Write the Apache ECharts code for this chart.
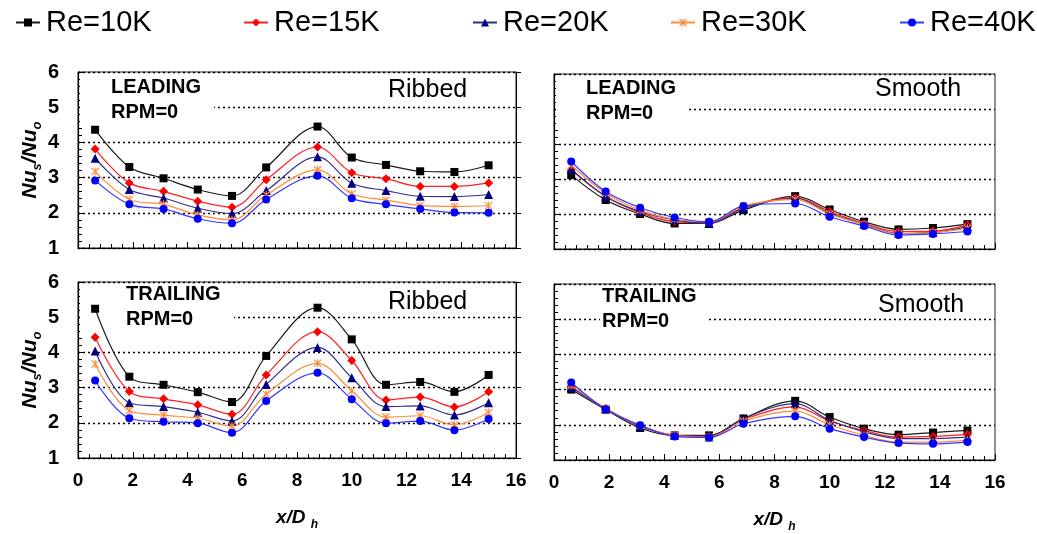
<!DOCTYPE html>
<html>
<head>
<meta charset="utf-8">
<script src="https://cdn.jsdelivr.net/npm/echarts@6/dist/echarts.min.js"></script>
<style>html,body{margin:0;padding:0;background:#fff}#c{width:1037px;height:534px}</style>
</head>
<body>
<div id="c"></div>
<script>
// x positions (x/Dh) of the measurement stations
const xPos = [0.625, 1.875, 3.125, 4.375, 5.625, 6.875, 8.75, 10, 11.25, 12.5, 13.75, 15];
const seriesNames = ['Re=10K', 'Re=15K', 'Re=20K', 'Re=30K', 'Re=40K'];
const xTicks = [0, 2, 4, 6, 8, 10, 12, 14, 16];
const yTicks = [1, 2, 3, 4, 5, 6];

// Leading, Ribbed
const lr10 = [4.36, 3.30, 2.98, 2.66, 2.48, 3.29, 4.45, 3.57, 3.36, 3.18, 3.16, 3.35];
const lr15 = [3.81, 2.85, 2.61, 2.33, 2.16, 2.94, 3.87, 3.14, 2.97, 2.75, 2.75, 2.85];
const lr20 = [3.55, 2.66, 2.42, 2.13, 1.98, 2.63, 3.59, 2.84, 2.63, 2.47, 2.46, 2.52];
const lr30 = [3.17, 2.38, 2.24, 1.94, 1.80, 2.51, 3.22, 2.54, 2.36, 2.21, 2.18, 2.20];
const lr40 = [2.92, 2.24, 2.11, 1.83, 1.70, 2.38, 3.05, 2.41, 2.24, 2.11, 2.01, 2.00];
// Leading, Smooth
const ls10 = [3.11, 2.40, 2.00, 1.73, 1.73, 2.11, 2.51, 2.13, 1.78, 1.56, 1.60, 1.71];
const ls15 = [3.26, 2.50, 2.04, 1.78, 1.75, 2.19, 2.47, 2.07, 1.73, 1.50, 1.51, 1.69];
const ls20 = [3.28, 2.51, 2.07, 1.83, 1.73, 2.16, 2.45, 2.02, 1.71, 1.45, 1.47, 1.64];
const ls30 = [3.40, 2.59, 2.11, 1.85, 1.78, 2.23, 2.42, 2.00, 1.70, 1.43, 1.47, 1.59];
const ls40 = [3.50, 2.64, 2.18, 1.90, 1.78, 2.23, 2.30, 1.92, 1.66, 1.40, 1.43, 1.50];
// Trailing, Ribbed
const tr10 = [5.24, 3.31, 3.08, 2.87, 2.59, 3.90, 5.27, 4.37, 3.08, 3.16, 2.88, 3.36];
const tr15 = [4.43, 2.89, 2.68, 2.51, 2.24, 3.36, 4.59, 3.77, 2.65, 2.73, 2.45, 2.88];
const tr20 = [4.04, 2.57, 2.46, 2.30, 2.05, 3.09, 4.14, 3.28, 2.46, 2.48, 2.22, 2.57];
const tr30 = [3.67, 2.35, 2.22, 2.13, 1.91, 2.81, 3.69, 2.91, 2.16, 2.20, 1.94, 2.29];
const tr40 = [3.20, 2.13, 2.03, 1.99, 1.72, 2.62, 3.42, 2.67, 1.99, 2.05, 1.79, 2.11];
// Trailing, Smooth
const ts10 = [3.00, 2.43, 1.91, 1.70, 1.70, 2.18, 2.68, 2.22, 1.89, 1.72, 1.78, 1.84];
const ts15 = [3.09, 2.46, 1.97, 1.70, 1.67, 2.15, 2.51, 2.10, 1.84, 1.65, 1.67, 1.73];
const ts20 = [3.06, 2.46, 1.96, 1.70, 1.65, 2.18, 2.60, 2.13, 1.80, 1.61, 1.61, 1.65];
const ts30 = [3.12, 2.46, 1.98, 1.70, 1.65, 2.10, 2.39, 2.00, 1.70, 1.51, 1.51, 1.56];
const ts40 = [3.20, 2.44, 1.99, 1.67, 1.64, 2.03, 2.24, 1.89, 1.65, 1.48, 1.46, 1.51];

const panels = [
  [lr10, lr15, lr20, lr30, lr40],
  [ls10, ls15, ls20, ls30, ls40],
  [tr10, tr15, tr20, tr30, tr40],
  [ts10, ts15, ts20, ts30, ts40]
];

const FONT = 'Liberation Sans, Arial, Helvetica, sans-serif';
const asterisk = 'path://M0,1 L1,0 L10,9 L9,10 Z M9,0 L10,1 L1,10 L0,9 Z M4.3,0 L5.7,0 L5.7,10 L4.3,10 Z';
const styles = [
  { color: '#000000', line: '#1a1a1a', symbol: 'rect', size: 8 },
  { color: '#FF0000', line: '#FF2020', symbol: 'diamond', size: 9 },
  { color: '#000080', line: '#30308C', symbol: 'triangle', size: 9 },
  { color: '#FF8C3A', line: '#FF8C3A', symbol: asterisk, size: 8 },
  { color: '#0000FF', line: '#3535FF', symbol: 'circle', size: 8 }
];

const grids = [
  { left: 78, top: 72, width: 438, height: 176 },
  { left: 554, top: 74, width: 441, height: 175 },
  { left: 78, top: 282, width: 438, height: 176 },
  { left: 554, top: 284, width: 441, height: 176 }
].map(g => Object.assign(g, { show: true, borderColor: '#222', borderWidth: 1, backgroundColor: '#fff' }));

const xAxes = grids.map((g, i) => ({
  type: 'value', gridIndex: i, min: xTicks[0], max: xTicks[xTicks.length - 1], interval: 2,
  axisLine: { show: true, onZero: false, lineStyle: { color: '#000', width: 1.2 } },
  axisTick: { show: true, inside: true, length: 6, lineStyle: { color: '#000' } },
  minorTick: { show: true, splitNumber: 5, length: 4, lineStyle: { color: '#000' } },
  splitLine: { show: false },
  axisLabel: { show: i >= 2, fontFamily: FONT, fontSize: 19, fontWeight: 'bold', color: '#000', margin: 13 },
  name: i >= 2 ? '{n|x/D }{s|h}' : '',
  nameLocation: 'middle', nameGap: 50,
  nameTextStyle: {
    rich: {
      n: { fontFamily: FONT, fontSize: 19, fontWeight: 'bold', fontStyle: 'italic', color: '#000', lineHeight: 19, verticalAlign: 'top' },
      s: { fontFamily: FONT, fontSize: 12, fontWeight: 'bold', fontStyle: 'italic', color: '#000', lineHeight: 12, verticalAlign: 'top', padding: [11, 0, 0, 0] }
    }
  }
}));

const yAxes = [];
grids.forEach((g, i) => {
  const leftPanel = (i % 2 === 0);
  yAxes.push({
    type: 'value', gridIndex: i, min: yTicks[0], max: yTicks[yTicks.length - 1], interval: 1,
    axisLine: { show: true, lineStyle: { color: '#000', width: 1.2 } },
    axisTick: { show: true, inside: true, length: 6, lineStyle: { color: '#000' } },
    minorTick: { show: true, splitNumber: 5, length: 4, lineStyle: { color: '#000' } },
    splitLine: { show: true, lineStyle: { color: '#000', type: [2, 3], width: 1.3 } },
    axisLabel: { show: leftPanel, fontFamily: FONT, fontSize: 20, fontWeight: 'bold', color: '#000', margin: 19 },
    name: leftPanel ? '{n|Nu}{s|s}{n|/Nu}{s|o}' : '',
    nameLocation: 'middle', nameRotate: 90, nameGap: 37,
    nameTextStyle: {
      rich: {
        n: { fontFamily: FONT, fontSize: 21, fontWeight: 'bold', fontStyle: 'italic', color: '#000', lineHeight: 21, verticalAlign: 'top' },
        s: { fontFamily: FONT, fontSize: 13, fontWeight: 'bold', fontStyle: 'italic', color: '#000', lineHeight: 13, verticalAlign: 'top', padding: [11, 0, 0, 0] }
      }
    }
  });
});
// outward ticks on right side of the left panels
[0, 2].forEach(i => {
  yAxes.push({
    type: 'value', gridIndex: i, position: 'right', min: yTicks[0], max: yTicks[yTicks.length - 1], interval: 1,
    axisLine: { show: true, lineStyle: { color: '#000', width: 1 } },
    axisTick: { show: true, inside: false, length: 5, lineStyle: { color: '#000' } },
    axisLabel: { show: false }, splitLine: { show: false }
  });
});

const series = [];
panels.forEach((sets, p) => {
  sets.forEach((vals, k) => {
    const st = styles[k];
    series.push({
      name: seriesNames[k], type: 'line', xAxisIndex: p, yAxisIndex: p,
      data: xPos.map((x, j) => [x, vals[j]]),
      smooth: 0.35,
      symbol: st.symbol, symbolSize: st.size,
      lineStyle: { color: st.line, width: 1.2 },
      itemStyle: { color: st.color },
      emphasis: { disabled: true },
      animation: false
    });
  });
});

const legendLefts = [10, 238, 467, 665, 894];
const legends = seriesNames.map((n, k) => ({
  data: [n], left: legendLefts[k], top: 3, itemWidth: 24, itemHeight: 10, itemGap: 0,
  selectedMode: false,
  textStyle: { fontFamily: FONT, fontSize: 29, color: '#000', padding: [0, 0, 0, 1] }
}));

function txt(text, left, top, size, lh, weight) {
  return { type: 'text', left: left, top: top, z: 100,
    style: { text: text, font: (weight || 'normal') + ' ' + size + 'px ' + FONT, fill: '#000', lineHeight: lh } };
}
function box(left, top, w, h) {
  return { type: 'rect', left: left, top: top, z: 1, shape: { width: w, height: h }, style: { fill: '#fff' } };
}

const graphics = [
  box(80, 77, 134, 48), box(556, 79, 130, 48), box(80, 285, 154, 48), box(600, 287, 106, 48),
  txt('LEADING\nRPM=0', 111, 75, 20, 25, 'bold'),
  txt('LEADING\nRPM=0', 586, 76, 20, 25, 'bold'),
  txt('TRAILING\nRPM=0', 126, 282, 20, 25, 'bold'),
  txt('TRAILING\nRPM=0', 602, 284, 20, 25, 'bold'),
  txt('Ribbed', 388, 78, 25, 25),
  txt('Smooth', 875, 77, 25, 25),
  txt('Ribbed', 388, 290, 25, 25),
  txt('Smooth', 878, 293, 25, 25)
];

const chart = echarts.init(document.getElementById('c'), null, { renderer: 'canvas' });
chart.setOption({
  animation: false,
  backgroundColor: '#fff',
  legend: legends,
  grid: grids,
  xAxis: xAxes,
  yAxis: yAxes,
  series: series,
  graphic: graphics
});
</script>
</body>
</html>
